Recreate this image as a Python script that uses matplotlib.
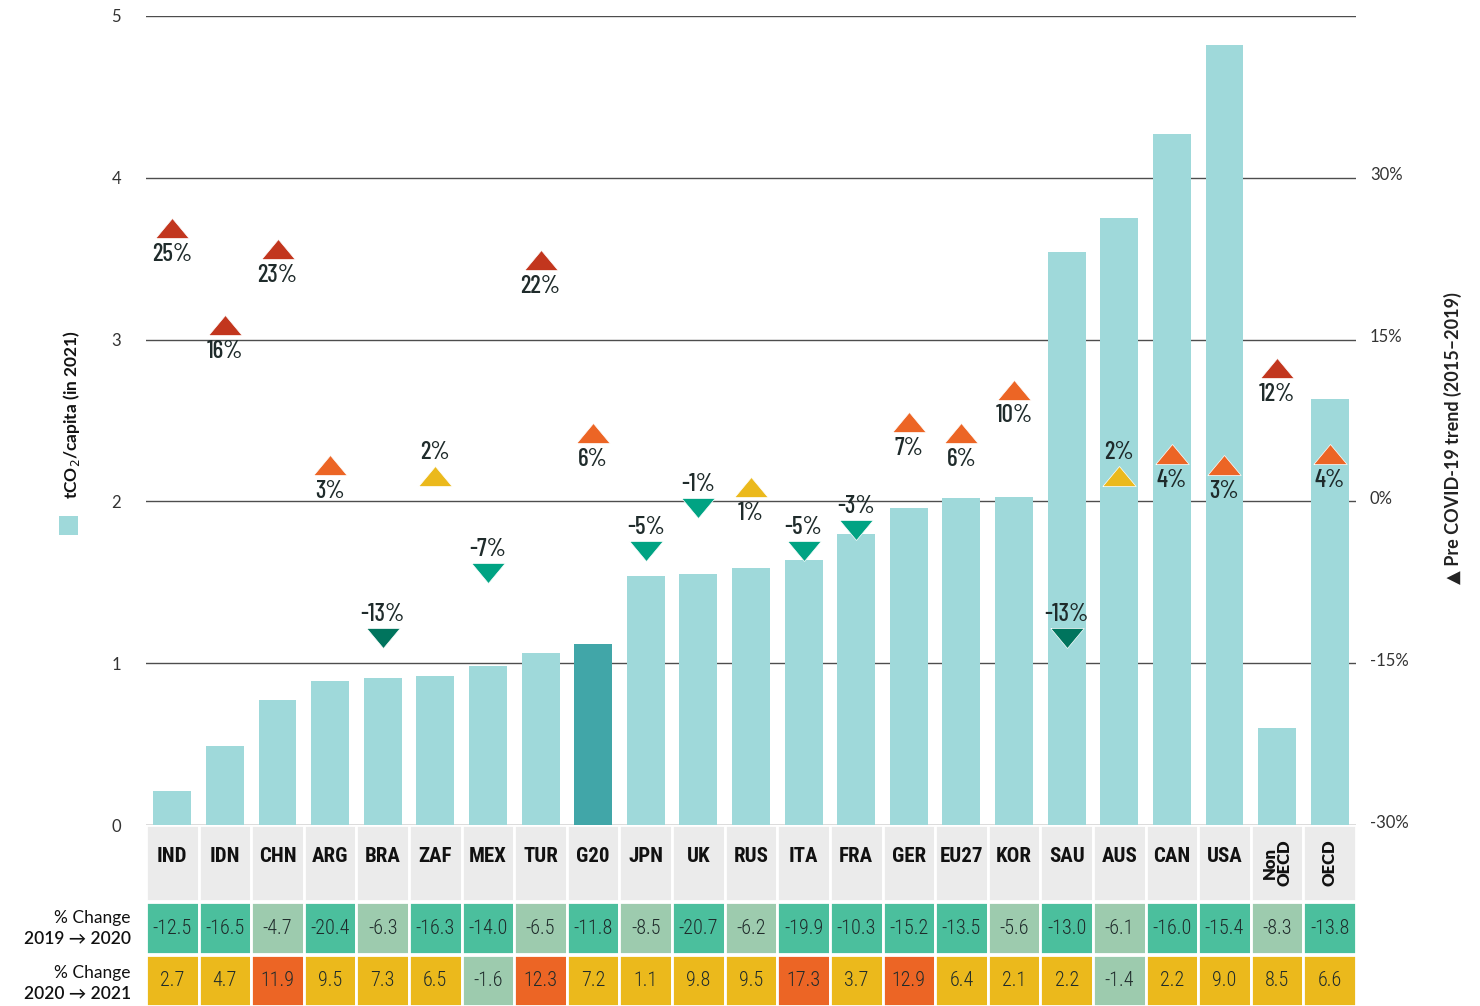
import matplotlib
matplotlib.use("Agg")
import matplotlib.pyplot as plt
from matplotlib.patches import Rectangle
from matplotlib.path import Path

# data
countries = ["IND", "IDN", "CHN", "ARG", "BRA", "ZAF", "MEX", "TUR", "G20", "JPN", "UK", "RUS",
             "ITA", "FRA", "GER", "EU27", "KOR", "SAU", "AUS", "CAN", "USA", "Non\nOECD", "OECD"]
co2_per_capita = [0.21, 0.49, 0.77, 0.89, 0.91, 0.92, 0.98, 1.06, 1.12, 1.54, 1.55, 1.59,
                  1.64, 1.80, 1.96, 2.02, 2.03, 3.54, 3.75, 4.27, 4.82, 0.60, 2.63]
trend_pct = [25, 16, 23, 3, -13, 2, -7, 22, 6, -5, -1, 1,
             -5, -3, 7, 6, 10, -13, 2, 4, 3, 12, 4]
change_19_20 = [-12.5, -16.5, -4.7, -20.4, -6.3, -16.3, -14.0, -6.5, -11.8, -8.5, -20.7, -6.2,
                -19.9, -10.3, -15.2, -13.5, -5.6, -13.0, -6.1, -16.0, -15.4, -8.3, -13.8]
change_20_21 = [2.7, 4.7, 11.9, 9.5, 7.3, 6.5, -1.6, 12.3, 7.2, 1.1, 9.8, 9.5,
                17.3, 3.7, 12.9, 6.4, 2.1, 2.2, -1.4, 2.2, 9.0, 8.5, 6.6]
row_labels = [("% Change", "2019 → 2020"), ("% Change", "2020 → 2021")]
label_above_up = ["ZAF", "AUS"]  # up-triangles whose label sits on top

BAR = "#9fd9da"
BAR_HI = "#41a6a8"
GRID = "#4d4d4d"
TXT = "#1f2b2b"
PCT_FONT = ["Barlow Condensed", "Roboto Condensed", "DejaVu Sans"]
COND_FONT = ["Roboto Condensed", "Barlow Condensed", "DejaVu Sans"]

plt.rcParams["font.family"] = ["Lato", "DejaVu Sans"]


def trend_color(p):
    if p >= 11:
        return "#c2361e"
    if p >= 3:
        return "#ec6525"
    if p > 0:
        return "#ebb91c"
    if p > -10:
        return "#00a383"
    return "#00745d"


def cell_color_1(v):
    return "#4bbf9d" if v <= -10 else "#9dcbae"


def cell_color_2(v):
    if v < 0:
        return "#9dcbae"
    if v >= 11:
        return "#ec6525"
    return "#ebb91c"


fig = plt.figure(figsize=(14.8, 10.06), dpi=100)
W, H = 1480, 1006
x0, x1, ytop, ybot = 146, 1356, 16, 825

ax = fig.add_axes([x0 / W, (H - ybot) / H, (x1 - x0) / W, (ybot - ytop) / H])
n = len(countries)
xs = list(range(n))
colors = [BAR_HI if c == "G20" else BAR for c in countries]
ax.bar(xs, co2_per_capita, width=0.72, color=colors, zorder=2)
ax.set_xlim(-0.5, n - 0.5)
ax.set_ylim(0, 5)
ax.set_yticks(range(6))
ax.tick_params(axis="y", length=0, pad=18, labelsize=12, labelcolor="#333333")
ax.set_xticks([])
for s in ax.spines.values():
    s.set_visible(False)
for v in range(6):
    ax.axhline(v, color=GRID, lw=1, zorder=1)

# right scale sits a few pixels above the gridlines in the original
ax2 = ax.twinx()
ax2.set_ylim(-30.37, 44.63)
ax2.set_yticks([-30, -15, 0, 15, 30])
ax2.set_yticklabels(["-30%", "-15%", "0%", "15%", "30%"])
ax2.tick_params(axis="y", length=0, pad=10, labelsize=12, labelcolor="#333333")
for s in ax2.spines.values():
    s.set_visible(False)

up = Path([(-1, -0.6), (1, -0.6), (0, 0.6), (-1, -0.6)])
down = Path([(-1, 0.6), (1, 0.6), (0, -0.6), (-1, 0.6)])
for i, (c, p) in enumerate(zip(countries, trend_pct)):
    is_up = p > 0
    ax2.plot(i, p, marker=up if is_up else down, markersize=24,
             color=trend_color(p), mec="white", mew=0.5, zorder=4, ls="none")
    above = (not is_up) or c in label_above_up
    ax2.annotate(f"{p}%", (i, p), xytext=(0, 17 if above else -19), textcoords="offset points",
                 ha="center", va="center", fontsize=18, fontweight="medium", color=TXT,
                 family=PCT_FONT, zorder=5)

# table below the chart
tab = fig.add_axes([x0 / W, 0, (x1 - x0) / W, (H - ybot) / H])
tab.set_xlim(-0.5, n - 0.5)
tab.set_ylim(H - ybot, 0)
tab.axis("off")
rows = [(0, 76), (77, 129), (130, 181)]
for i, c in enumerate(countries):
    for (r0, r1), fc in zip(rows, ["#ebebeb", cell_color_1(change_19_20[i]), cell_color_2(change_20_21[i])]):
        tab.add_patch(Rectangle((i - 0.5, r0), 1, r1 - r0, facecolor=fc, edgecolor="white", lw=2))
    if "OECD" in c:
        tab.text(i, 38, c, rotation=90, ha="center", va="center", fontsize=12, fontweight="heavy",
                 color="#111111", linespacing=0.85)
    else:
        tab.text(i, 31, c, ha="center", va="center", fontsize=15, fontweight="bold",
                 color="#111111", family=COND_FONT)
    tab.text(i, 103, f"{change_19_20[i]:.1f}", ha="center", va="center", fontsize=14.5,
             color=TXT, family=COND_FONT, fontweight="light")
    tab.text(i, 156, f"{change_20_21[i]:.1f}", ha="center", va="center", fontsize=14.5,
             color=TXT, family=COND_FONT, fontweight="light")

for (top, bottom), yc in zip(row_labels, [928, 983]):
    fig.text(131 / W, 1 - (yc - 10) / H, top, ha="right", va="center", fontsize=12.5,
             color="#111111")
    fig.text(131 / W, 1 - (yc + 11) / H, bottom, ha="right", va="center", fontsize=12.5,
             fontweight="semibold", color="#111111")

# axis titles
fig.text(71 / W, 1 - 414 / H, "tCO$_2$/capita (in 2021)", rotation=90, ha="center", va="center",
         fontsize=12.5, fontweight="bold", color="#111111")
fig.patches.append(Rectangle((59 / W, 1 - 535 / H), 19 / W, 19 / H, transform=fig.transFigure,
                             facecolor=BAR, edgecolor="none"))
fig.text(1453 / W, 1 - 438 / H, "▲ Pre COVID-19 trend (2015–2019)", rotation=90, ha="center",
         va="center", fontsize=13, fontweight="bold", color="#222222")

fig.savefig("out.png", dpi=100)
